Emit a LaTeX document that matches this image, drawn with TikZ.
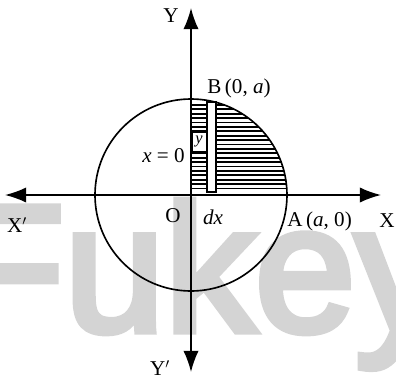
\documentclass[tikz,border=0pt]{standalone}
\usepackage{fontspec}
\setmainfont{Liberation Serif}
\newfontfamily\wmfont[BoldFont={Liberation Sans},BoldFeatures={FakeBold=4}]{Liberation Sans}
\usepackage{tikz}
\usetikzlibrary{positioning,arrows.meta,calc}
\definecolor{wmcol}{HTML}{D4D4D4}

\begin{document}
\begin{tikzpicture}[x=0.3mm,y=0.3mm,
   axis/.style={line width=1.4pt,{Latex[length=18pt,width=13pt]}-{Latex[length=18pt,width=13pt]}},
   lbl/.style={font=\fontsize{18}{20}\selectfont,inner sep=1pt},
   hatch/.style={line width=1.5pt},
   wmark/.style={font=\wmfont\bfseries\fontsize{154}{160}\selectfont,text=wmcol,inner sep=0pt},
]
\useasboundingbox (-191,-190) rectangle (205,195);

% watermark behind the figure
\node[wmark,anchor=base west] (wm) at (-237,-136) {Fukey};

\coordinate (O) at (0,0);
\coordinate (xl) at (-186,0);
\coordinate (xr) at (190,0);
\coordinate (yt) at (0,187);
\coordinate (yb) at (0,-177);

% shaded quarter and strip
\foreach \h in {6.5,10.9,...,92}
   \draw[hatch] (0,\h) -- ({sqrt(9216-\h*\h)},\h);
\draw[line width=0.9pt,fill=white] (16,3) rectangle (25,93);
\node[draw,fill=white,line width=0.7pt,inner sep=0.5pt,minimum width=14*0.3mm,
      minimum height=19*0.3mm,font=\fontsize{14}{15}\selectfont] (ybox) at (8,53) {\textit{y}};

\draw[line width=1.4pt] (O) circle (96);
\draw[axis] (xl) -- (xr);
\draw[axis] (yb) -- (yt);

\node[lbl] (lblY)  at (-20,179) {Y};
\node[lbl] (lblYp) at (-31,-173) {Y$'$};
\node[lbl] (lblXp) at (-174,-30) {X$'$};
\node[lbl] (lblX)  at (196,-26) {X};
\node[lbl,anchor=west] (lblA) at (95,-26) {A\,(\textit{a}, 0)};
\node[lbl] (lblO)  at (-18,-21) {O};
\node[lbl] (lbldx) at (22,-22) {\textit{dx}};
\node[lbl,anchor=west] (lblB) at (15,107) {B\,(0, \textit{a})};
\node[lbl,anchor=east] (lblxeq) at (-5,39) {\textit{x} = 0};
\end{tikzpicture}
\end{document}
